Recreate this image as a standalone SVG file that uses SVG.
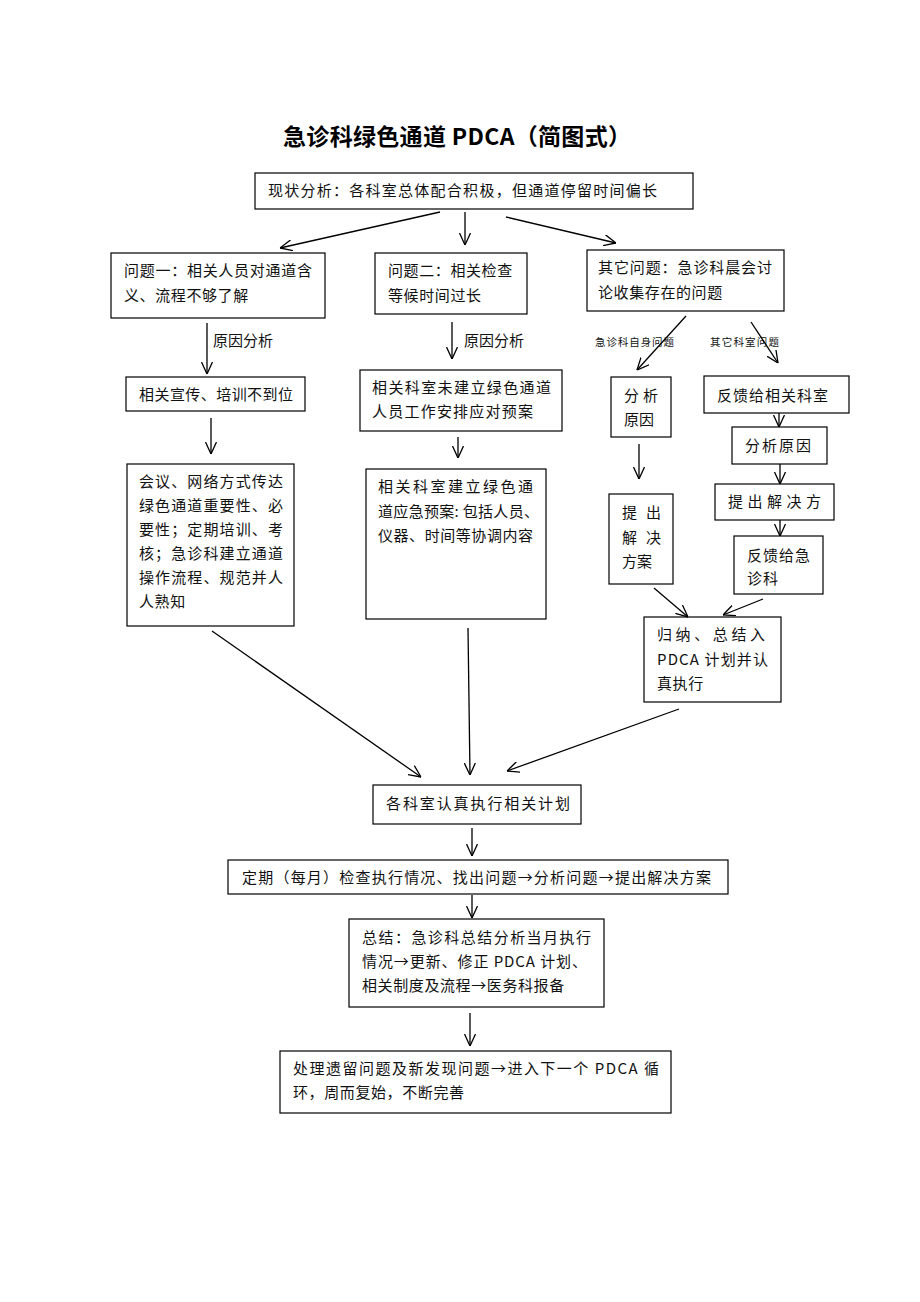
<svg xmlns="http://www.w3.org/2000/svg" width="920" height="1302" viewBox="0 0 920 1302">
<style>
.b{fill:#fff;stroke:#000;stroke-width:1.2}
.t{font-family:"Noto Sans CJK SC","Liberation Sans",sans-serif;font-size:15px;fill:#111}
.s{font-family:"Noto Sans CJK SC","Liberation Sans",sans-serif;font-size:10.5px;fill:#111}
.c line{stroke:#000;stroke-width:1.3;marker-end:url(#a)}
</style>
<defs>
<marker id="a" viewBox="0 0 12 12" refX="12" refY="6" markerWidth="12" markerHeight="12" markerUnits="userSpaceOnUse" orient="auto">
<path d="M0,0.5 L12,6 L0,11.5" fill="none" stroke="#000" stroke-width="1.3"/>
</marker>
</defs>
<rect width="920" height="1302" fill="#fff"/>
<text x="457" y="145" text-anchor="middle" font-family="Noto Sans CJK SC, Liberation Sans, sans-serif" font-size="23" font-weight="bold" fill="#000" textLength="348" lengthAdjust="spacing">急诊科绿色通道 PDCA（简图式）</text>

<g id="n1"><rect class="b" x="255" y="173" width="438" height="36"/><text class="t" x="268" y="196" textLength="389" lengthAdjust="spacing">现状分析：各科室总体配合积极，但通道停留时间偏长</text></g>
<g id="q1"><rect class="b" x="111" y="253" width="214" height="65"/><text class="t" x="124" y="276" textLength="188" lengthAdjust="spacing">问题一：相关人员对通道含</text><text class="t" x="124" y="301" letter-spacing="0.6">义、流程不够了解</text></g>
<g id="q2"><rect class="b" x="375" y="253" width="152" height="61"/><text class="t" x="388" y="276" letter-spacing="0.6">问题二：相关检查</text><text class="t" x="388" y="301" letter-spacing="0.6">等候时间过长</text></g>
<g id="q3"><rect class="b" x="587" y="250" width="197" height="61"/><text class="t" x="598" y="273" textLength="174" lengthAdjust="spacing">其它问题：急诊科晨会讨</text><text class="t" x="598" y="298" letter-spacing="0.6">论收集存在的问题</text></g>

<g id="l1"><text class="t" x="213" y="346">原因分析</text></g>
<g id="l2"><text class="t" x="464" y="346">原因分析</text></g>
<g id="l3"><text class="s" x="595" y="346" textLength="79" lengthAdjust="spacing">急诊科自身问题</text></g>
<g id="l4"><text class="s" x="710" y="346" textLength="69" lengthAdjust="spacing">其它科室问题</text></g>

<g id="a1"><rect class="b" x="126" y="377" width="179" height="34"/><text class="t" x="139" y="400" textLength="154" lengthAdjust="spacing">相关宣传、培训不到位</text></g>
<g id="a2"><rect class="b" x="127" y="464" width="167" height="162"/>
<text class="t" x="139" y="487" textLength="144" lengthAdjust="spacing">会议、网络方式传达</text>
<text class="t" x="139" y="511" textLength="144" lengthAdjust="spacing">绿色通道重要性、必</text>
<text class="t" x="139" y="535" textLength="144" lengthAdjust="spacing">要性；定期培训、考</text>
<text class="t" x="139" y="559" textLength="144" lengthAdjust="spacing">核；急诊科建立通道</text>
<text class="t" x="139" y="583" textLength="144" lengthAdjust="spacing">操作流程、规范并人</text>
<text class="t" x="139" y="607" letter-spacing="0.6">人熟知</text></g>

<g id="b1"><rect class="b" x="360" y="370" width="202" height="61"/><text class="t" x="372" y="393" textLength="179" lengthAdjust="spacing">相关科室未建立绿色通道</text><text class="t" x="372" y="417" textLength="161" lengthAdjust="spacing">人员工作安排应对预案</text></g>
<g id="b2"><rect class="b" x="366" y="469" width="180" height="150"/>
<text class="t" x="378" y="492" textLength="155" lengthAdjust="spacing">相关科室建立绿色通</text>
<text class="t" x="378" y="517" textLength="161" lengthAdjust="spacing">道应急预案: 包括人员、</text>
<text class="t" x="378" y="541" textLength="155" lengthAdjust="spacing">仪器、时间等协调内容</text></g>

<g id="c1"><rect class="b" x="611" y="377" width="60" height="60"/><text class="t" x="624" y="401" textLength="34" lengthAdjust="spacing">分 析</text><text class="t" x="624" y="425">原因</text></g>
<g id="c2"><rect class="b" x="609" y="494" width="64" height="90"/><text class="t" x="622" y="518" textLength="39" lengthAdjust="spacing">提 出</text><text class="t" x="622" y="543" textLength="39" lengthAdjust="spacing">解 决</text><text class="t" x="622" y="567">方案</text></g>

<g id="d1"><rect class="b" x="704" y="376" width="145" height="37"/><text class="t" x="717" y="401" textLength="111" lengthAdjust="spacing">反馈给相关科室</text></g>
<g id="d2"><rect class="b" x="732" y="427" width="95" height="37"/><text class="t" x="745" y="451" textLength="66" lengthAdjust="spacing">分析原因</text></g>
<g id="d3"><rect class="b" x="715" y="484" width="119" height="36"/><text class="t" x="728" y="507" textLength="93" lengthAdjust="spacing">提出解决方</text></g>
<g id="d4"><rect class="b" x="734" y="536" width="89" height="58"/><text class="t" x="747" y="561" textLength="63" lengthAdjust="spacing">反馈给急</text><text class="t" x="747" y="584" letter-spacing="1">诊科</text></g>

<g id="e1"><rect class="b" x="644" y="617" width="137" height="85"/>
<text class="t" x="657" y="640" textLength="108" lengthAdjust="spacing">归纳、总结入</text>
<text class="t" x="657" y="665" textLength="111" lengthAdjust="spacing">PDCA 计划并认</text>
<text class="t" x="657" y="689" letter-spacing="0.6">真执行</text></g>

<g id="f1"><rect class="b" x="373" y="785" width="208" height="39"/><text class="t" x="386" y="809" textLength="184" lengthAdjust="spacing">各科室认真执行相关计划</text></g>
<g id="f2"><rect class="b" x="228" y="860" width="500" height="34"/><text class="t" x="242" y="883" textLength="469" lengthAdjust="spacing">定期（每月）检查执行情况、找出问题→分析问题→提出解决方案</text></g>
<g id="f3"><rect class="b" x="349" y="919" width="255" height="88"/>
<text class="t" x="362" y="943" textLength="229" lengthAdjust="spacing">总结：急诊科总结分析当月执行</text>
<text class="t" x="362" y="967" textLength="225" lengthAdjust="spacing">情况→更新、修正 PDCA 计划、</text>
<text class="t" x="362" y="991" letter-spacing="0.6">相关制度及流程→医务科报备</text></g>
<g id="f4"><rect class="b" x="280" y="1051" width="391" height="62"/>
<text class="t" x="293" y="1074" textLength="366" lengthAdjust="spacing">处理遗留问题及新发现问题→进入下一个 PDCA 循</text>
<text class="t" x="293" y="1098" letter-spacing="0.6">环，周而复始，不断完善</text></g>

<g id="connectors" class="c">
<line x1="440" y1="212" x2="280" y2="248"/>
<line x1="465" y1="212" x2="465" y2="245"/>
<line x1="506" y1="217" x2="616" y2="243"/>
<line x1="207" y1="323" x2="207" y2="374"/>
<line x1="452" y1="322" x2="452" y2="359"/>
<line x1="686" y1="316" x2="637" y2="370"/>
<line x1="751" y1="322" x2="778" y2="363"/>
<line x1="211" y1="418" x2="211" y2="454"/>
<line x1="458" y1="437" x2="458" y2="458"/>
<line x1="639" y1="444" x2="639" y2="479"/>
<line x1="779" y1="413" x2="779" y2="427"/>
<line x1="780" y1="464" x2="780" y2="484"/>
<line x1="780" y1="520" x2="780" y2="536"/>
<line x1="654" y1="588" x2="688" y2="617"/>
<line x1="763" y1="599" x2="723" y2="615"/>
<line x1="212" y1="631" x2="421" y2="777"/>
<line x1="468" y1="628" x2="470" y2="775"/>
<line x1="679" y1="709" x2="507" y2="771"/>
<line x1="472" y1="828" x2="472" y2="856"/>
<line x1="472" y1="895" x2="472" y2="918"/>
<line x1="470" y1="1013" x2="470" y2="1046"/>
</g>
</svg>
